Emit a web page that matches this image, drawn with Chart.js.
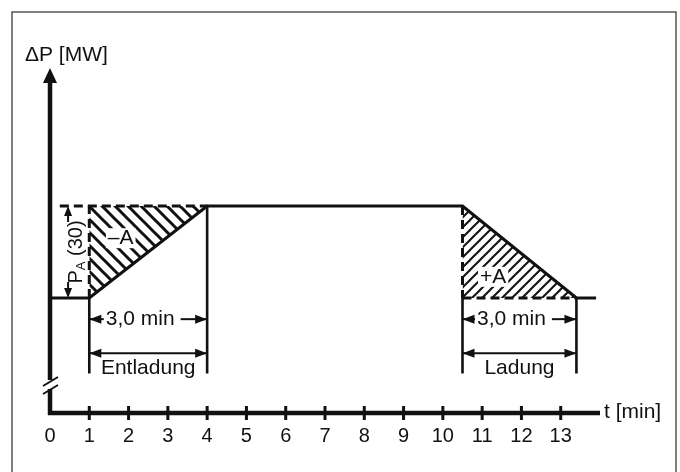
<!DOCTYPE html>
<html>
<head>
<meta charset="utf-8">
<script src="https://cdn.jsdelivr.net/npm/chart.js@4.4.1/dist/chart.umd.min.js"></script>
<style>
  html, body { margin: 0; padding: 0; background: #fff; }
  #wrap { width: 680px; height: 472px; position: relative; }
</style>
</head>
<body>
<div id="wrap"><canvas id="chart" width="680" height="472"></canvas></div>
<script>
'use strict';

// ── data (t in min, ΔP in units of P_A(30), 0 = base level) ──
const tickValues = [0, 1, 2, 3, 4, 5, 6, 7, 8, 9, 10, 11, 12, 13];
const profileT = [0, 1, 4, 10.5, 13.4, 13.9];
const profileP = [0, 0, 1, 1, 0, 0];
const dischargeT = [1, 4];       // hatched area -A
const dischargeP = [0, 1];
const chargeT = [10.5, 13.4];    // hatched area +A
const chargeP = [1, 0];
const dashedT = [[0.25, 4], [1, 1], [10.5, 10.5], [10.5, 13.4]];
const dashedP = [[1, 1], [0, 1], [1, 0], [0, 0]];
const markerT = [1, 4, 10.5, 13.4];
const markerTop = [0, 1, 0, 0];
const markerBottom = -0.82;
const spanDim = [[1, 4, '3,0 min'], [10.5, 13.4, '3,0 min']];
const phaseDim = [[1, 4, 'Entladung'], [10.5, 13.4, 'Ladung']];

const INK = '#111';
const FONT = '"Liberation Sans", Arial, Helvetica, sans-serif';

function pts(ts, ps) { return ts.map((t, i) => ({ x: t, y: ps[i] })); }

function hatch(dir, step, width) {
  const c = document.createElement('canvas');
  c.width = step; c.height = step;
  const g = c.getContext('2d');
  g.strokeStyle = INK; g.lineWidth = width;
  for (let k = -1; k <= 1; k++) {
    g.beginPath();
    if (dir === 'back') { g.moveTo(-step, -step + k * step); g.lineTo(2 * step, 2 * step + k * step); }
    else { g.moveTo(-step, 2 * step + k * step); g.lineTo(2 * step, -step + k * step); }
    g.stroke();
  }
  return g.createPattern(c, 'repeat');
}

const datasets = [
  { data: pts(profileT, profileP), borderColor: INK, borderWidth: 3.2, fill: false, borderJoinStyle: 'miter' }
];
dashedT.forEach((ts, i) => datasets.push({
  data: pts(ts, dashedP[i]), borderColor: INK, borderWidth: 3, borderDash: [9, 5], fill: false
}));
markerT.forEach((t, i) => datasets.push({
  data: [{ x: t, y: markerTop[i] }, { x: t, y: markerBottom }], borderColor: INK, borderWidth: 2.6, fill: false
}));
datasets.push({ data: pts(dischargeT, dischargeP), borderWidth: 0, fill: { value: 1 }, backgroundColor: hatch('back', 13, 3) });
datasets.push({ data: pts(chargeT, chargeP), borderWidth: 0, fill: { value: 0 }, backgroundColor: hatch('fwd', 10, 2) });

function arrowHead(ctx, x, y, ang, len, half) {
  ctx.save();
  ctx.translate(x, y); ctx.rotate(ang);
  ctx.beginPath();
  ctx.moveTo(0, 0); ctx.lineTo(-len, -half); ctx.lineTo(-len, half); ctx.closePath();
  ctx.fill();
  ctx.restore();
}

function line(ctx, x1, y1, x2, y2, w) {
  ctx.lineWidth = w;
  ctx.beginPath(); ctx.moveTo(x1, y1); ctx.lineTo(x2, y2); ctx.stroke();
}

const decor = {
  id: 'decor',
  afterDatasetsDraw(chart) {
    const ctx = chart.ctx, xs = chart.scales.x, ys = chart.scales.y;
    const X = v => xs.getPixelForValue(v), Y = v => ys.getPixelForValue(v);
    ctx.save();
    ctx.fillStyle = INK; ctx.strokeStyle = INK;

    // frame
    ctx.strokeStyle = '#555'; ctx.lineWidth = 1.5;
    ctx.beginPath(); ctx.moveTo(12, 480); ctx.lineTo(12, 12); ctx.lineTo(676, 12); ctx.lineTo(676, 480); ctx.stroke();
    ctx.strokeStyle = INK;

    // axes
    const x0 = X(0), yb = ys.bottom;
    ctx.lineCap = 'butt';
    line(ctx, x0 - 2, yb, X(14), yb, 4.5);
    line(ctx, x0, yb + 2, x0, 389, 4.5);
    line(ctx, x0, 380, x0, 82, 4.5);
    arrowHead(ctx, x0, ys.top, -Math.PI / 2, 15, 7);
    ctx.fillStyle = '#fff';
    ctx.fillRect(x0 - 4, 381, 8, 7);
    ctx.fillStyle = INK;
    line(ctx, x0 - 7, 386, x0 + 8, 377, 2);
    line(ctx, x0 - 7, 394, x0 + 8, 385, 2);

    // tick crosses
    tickValues.forEach(v => { if (v > 0) line(ctx, X(v), yb - 7, X(v), yb + 7, 3); });

    ctx.font = '21px ' + FONT;
    ctx.textBaseline = 'middle';
    ctx.textAlign = 'left';
    ctx.fillText('\u0394P [MW]', 25, 55);
    ctx.fillText('t [min]', X(14) + 4, yb - 1);

    // dimension arrows
    spanDim.forEach(([a, b, txt]) => {
      const y = Y(-0.23), xa = X(a), xb = X(b);
      const w = ctx.measureText(txt).width;
      const cx = (xa + xb) / 2 - 8;
      line(ctx, xa, y, cx - w / 2 - 2, y, 2);
      line(ctx, cx + w / 2 + 6, y, xb, y, 2);
      arrowHead(ctx, xa, y, Math.PI, 12, 4.5);
      arrowHead(ctx, xb, y, 0, 12, 4.5);
      ctx.textAlign = 'center';
      ctx.fillText(txt, cx, y);
    });
    phaseDim.forEach(([a, b, txt]) => {
      const y = Y(-0.6), xa = X(a), xb = X(b);
      line(ctx, xa, y, xb, y, 2);
      arrowHead(ctx, xa, y, Math.PI, 12, 4.5);
      arrowHead(ctx, xb, y, 0, 12, 4.5);
      ctx.textAlign = 'center';
      ctx.fillText(txt, (xa + xb) / 2, Y(-0.76));
    });

    // area labels
    [['\u2013A', 1.8, 0.65], ['+A', 11.28, 0.23]].forEach(([txt, t, p]) => {
      const w = ctx.measureText(txt).width;
      ctx.fillStyle = '#fff';
      ctx.fillRect(X(t) - w / 2 - 2, Y(p) - 10, w + 4, 20);
      ctx.fillStyle = INK;
      ctx.textAlign = 'center';
      ctx.fillText(txt, X(t), Y(p));
    });

    // P_A(30) dimension
    const px = X(0.46), ptop = Y(1), pbot = Y(0);
    line(ctx, px, ptop + 8, px, ptop + 16, 2);
    line(ctx, px, pbot - 16, px, pbot - 8, 2);
    arrowHead(ctx, px, ptop, -Math.PI / 2, 10, 4);
    arrowHead(ctx, px, pbot, Math.PI / 2, 10, 4);
    ctx.save();
    ctx.translate(X(0.68), (ptop + pbot) / 2);
    ctx.rotate(-Math.PI / 2);
    ctx.textAlign = 'left';
    const big = '20px ' + FONT, small = '13px ' + FONT;
    ctx.font = big; const wP = ctx.measureText('P').width;
    ctx.font = small; const wA = ctx.measureText('A').width;
    ctx.font = big; const wR = ctx.measureText(' (30)').width;
    let cur = -(wP + wA + wR) / 2;
    ctx.fillText('P', cur, 0); cur += wP;
    ctx.font = small; ctx.fillText('A', cur, 5); cur += wA;
    ctx.font = big; ctx.fillText(' (30)', cur, 0);
    ctx.restore();

    ctx.restore();
  }
};

new Chart(document.getElementById('chart'), {
  type: 'line',
  data: { datasets },
  options: {
    responsive: false,
    animation: false,
    layout: { padding: { left: 50, right: 80, top: 68, bottom: 0 } },
    elements: { point: { radius: 0 }, line: { tension: 0 } },
    plugins: { legend: { display: false }, tooltip: { enabled: false } },
    scales: {
      x: {
        type: 'linear', min: 0, max: 14,
        afterBuildTicks: axis => { axis.ticks = tickValues.map(v => ({ value: v })); },
        afterFit: axis => { axis.height = 59; },
        grid: { display: false, drawTicks: false },
        border: { display: false },
        ticks: { color: INK, font: { size: 20, family: FONT }, padding: 11, maxRotation: 0, autoSkip: false }
      },
      y: { type: 'linear', min: -1.25, max: 2.5, display: false }
    }
  },
  plugins: [decor]
});
</script>
</body>
</html>
